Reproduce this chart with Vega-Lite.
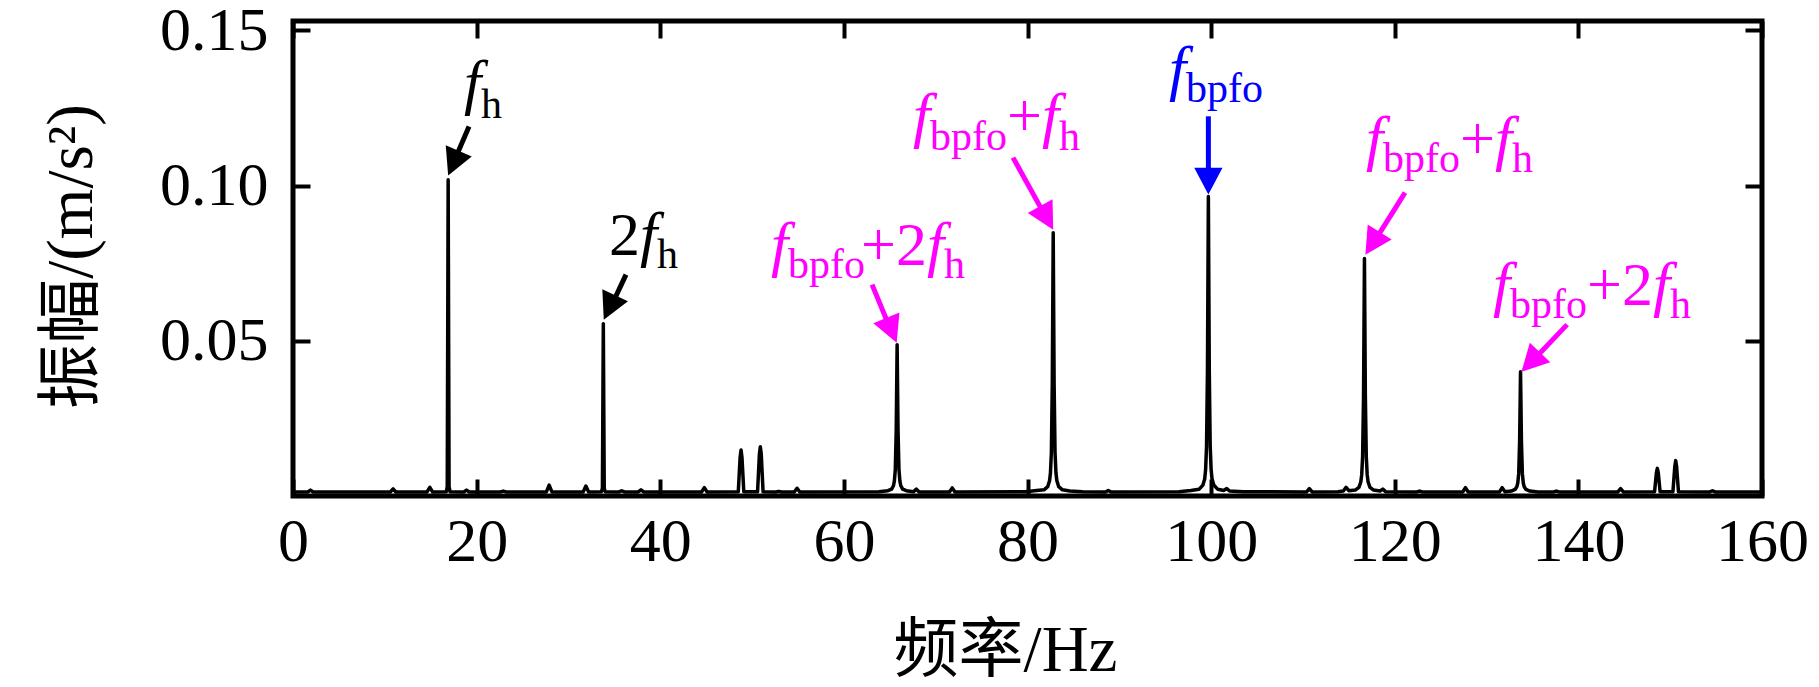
{
  "$schema": "https://vega.github.io/schema/vega-lite/v6.json",
  "autosize": {"type": "none"},
  "padding": {"left": 293, "top": 21, "right": 57, "bottom": 191},
  "width": 1469,
  "height": 475,
  "background": "white",
  "datasets": {
    "spec": [
      {"f": 0, "a": 0.0013}, {"f": 1.6, "a": 0.0013}, {"f": 1.9, "a": 0.0019}, {"f": 2.2, "a": 0.0013},
      {"f": 10.6, "a": 0.0013}, {"f": 10.9, "a": 0.0023}, {"f": 11.2, "a": 0.0013},
      {"f": 14.6, "a": 0.0013}, {"f": 14.9, "a": 0.0028}, {"f": 15.2, "a": 0.0013},
      {"f": 16.7, "a": 0.0014}, {"f": 16.8, "a": 0.003}, {"f": 16.9, "a": 0.1019}, {"f": 17.0, "a": 0.003}, {"f": 17.1, "a": 0.0014},
      {"f": 18.6, "a": 0.0013}, {"f": 18.9, "a": 0.0019}, {"f": 19.2, "a": 0.0013},
      {"f": 22.6, "a": 0.0013}, {"f": 22.9, "a": 0.0016}, {"f": 23.2, "a": 0.0013},
      {"f": 27.6, "a": 0.0013}, {"f": 27.9, "a": 0.0035}, {"f": 28.2, "a": 0.0013},
      {"f": 31.6, "a": 0.0013}, {"f": 31.9, "a": 0.0032}, {"f": 32.2, "a": 0.0013},
      {"f": 33.6, "a": 0.0014}, {"f": 33.7, "a": 0.0025}, {"f": 33.8, "a": 0.0555}, {"f": 33.9, "a": 0.0025}, {"f": 34.0, "a": 0.0014},
      {"f": 35.5, "a": 0.0013}, {"f": 35.8, "a": 0.0017}, {"f": 36.1, "a": 0.0013},
      {"f": 37.6, "a": 0.0013}, {"f": 37.9, "a": 0.002}, {"f": 38.2, "a": 0.0013},
      {"f": 44.5, "a": 0.0013}, {"f": 44.8, "a": 0.0027}, {"f": 45.1, "a": 0.0013},
      {"f": 48.5, "a": 0.0014}, {"f": 48.7, "a": 0.0125}, {"f": 48.8, "a": 0.0148}, {"f": 48.9, "a": 0.0125}, {"f": 49.1, "a": 0.0014},
      {"f": 50.6, "a": 0.0014}, {"f": 50.8, "a": 0.0135}, {"f": 50.9, "a": 0.0159}, {"f": 51.0, "a": 0.0135}, {"f": 51.2, "a": 0.0014},
      {"f": 52.6, "a": 0.0013}, {"f": 52.9, "a": 0.0015}, {"f": 53.2, "a": 0.0013},
      {"f": 54.6, "a": 0.0013}, {"f": 54.9, "a": 0.0025}, {"f": 55.2, "a": 0.0013},
      {"f": 63.8, "a": 0.0014}, {"f": 64.8, "a": 0.0017}, {"f": 65.2, "a": 0.0022}, {"f": 65.4, "a": 0.0033}, {"f": 65.5, "a": 0.0048},
      {"f": 65.6, "a": 0.0085}, {"f": 65.7, "a": 0.021}, {"f": 65.8, "a": 0.0487}, {"f": 65.9, "a": 0.021}, {"f": 66.0, "a": 0.0085},
      {"f": 66.1, "a": 0.0048}, {"f": 66.2, "a": 0.0033}, {"f": 66.4, "a": 0.0022}, {"f": 66.8, "a": 0.0017},
      {"f": 67.6, "a": 0.0014}, {"f": 67.9, "a": 0.0022}, {"f": 68.2, "a": 0.0013},
      {"f": 71.5, "a": 0.0013}, {"f": 71.8, "a": 0.0026}, {"f": 72.1, "a": 0.0013},
      {"f": 79.8, "a": 0.0014}, {"f": 81.0, "a": 0.0018}, {"f": 81.8, "a": 0.002}, {"f": 82.2, "a": 0.003}, {"f": 82.4, "a": 0.0049},
      {"f": 82.5, "a": 0.0074}, {"f": 82.6, "a": 0.014}, {"f": 82.7, "a": 0.036}, {"f": 82.8, "a": 0.0848}, {"f": 82.9, "a": 0.036},
      {"f": 83.0, "a": 0.014}, {"f": 83.1, "a": 0.0074}, {"f": 83.2, "a": 0.0049}, {"f": 83.4, "a": 0.003}, {"f": 83.8, "a": 0.002},
      {"f": 84.6, "a": 0.0016}, {"f": 86.0, "a": 0.0014},
      {"f": 88.5, "a": 0.0013}, {"f": 88.8, "a": 0.0018}, {"f": 89.1, "a": 0.0013},
      {"f": 96.5, "a": 0.0014}, {"f": 97.8, "a": 0.0018}, {"f": 98.7, "a": 0.0022}, {"f": 99.1, "a": 0.0035}, {"f": 99.3, "a": 0.0055},
      {"f": 99.4, "a": 0.0085}, {"f": 99.5, "a": 0.016}, {"f": 99.6, "a": 0.04}, {"f": 99.7, "a": 0.0965}, {"f": 99.8, "a": 0.04},
      {"f": 99.9, "a": 0.016}, {"f": 100.0, "a": 0.0085}, {"f": 100.1, "a": 0.0055}, {"f": 100.3, "a": 0.0035}, {"f": 100.7, "a": 0.0022},
      {"f": 101.4, "a": 0.0018}, {"f": 101.7, "a": 0.0024}, {"f": 102.0, "a": 0.0016}, {"f": 103.5, "a": 0.0014},
      {"f": 110.4, "a": 0.0013}, {"f": 110.7, "a": 0.0024}, {"f": 111.0, "a": 0.0013},
      {"f": 113.8, "a": 0.0014}, {"f": 114.4, "a": 0.0016}, {"f": 114.7, "a": 0.0028}, {"f": 115.0, "a": 0.0017},
      {"f": 115.7, "a": 0.0019}, {"f": 116.1, "a": 0.0028}, {"f": 116.3, "a": 0.0045}, {"f": 116.4, "a": 0.0068}, {"f": 116.5, "a": 0.0127},
      {"f": 116.6, "a": 0.032}, {"f": 116.7, "a": 0.0765}, {"f": 116.8, "a": 0.032}, {"f": 116.9, "a": 0.0127}, {"f": 117.0, "a": 0.0068},
      {"f": 117.1, "a": 0.0045}, {"f": 117.3, "a": 0.0028}, {"f": 117.7, "a": 0.0019},
      {"f": 118.4, "a": 0.0016}, {"f": 118.7, "a": 0.0022}, {"f": 119.0, "a": 0.0014},
      {"f": 122.4, "a": 0.0013}, {"f": 122.7, "a": 0.0016}, {"f": 123.0, "a": 0.0013},
      {"f": 127.4, "a": 0.0013}, {"f": 127.7, "a": 0.0027}, {"f": 128.0, "a": 0.0013},
      {"f": 131.4, "a": 0.0013}, {"f": 131.7, "a": 0.0027}, {"f": 132.0, "a": 0.0014},
      {"f": 132.7, "a": 0.0016}, {"f": 133.1, "a": 0.0021}, {"f": 133.3, "a": 0.003}, {"f": 133.4, "a": 0.0042}, {"f": 133.5, "a": 0.0072},
      {"f": 133.6, "a": 0.0175}, {"f": 133.7, "a": 0.04}, {"f": 133.8, "a": 0.0175}, {"f": 133.9, "a": 0.0072}, {"f": 134.0, "a": 0.0042},
      {"f": 134.1, "a": 0.003}, {"f": 134.3, "a": 0.0021}, {"f": 134.7, "a": 0.0016}, {"f": 135.6, "a": 0.0013},
      {"f": 137.3, "a": 0.0013}, {"f": 137.6, "a": 0.0016}, {"f": 137.9, "a": 0.0013},
      {"f": 144.3, "a": 0.0013}, {"f": 144.6, "a": 0.0024}, {"f": 144.9, "a": 0.0013},
      {"f": 148.3, "a": 0.0014}, {"f": 148.5, "a": 0.0075}, {"f": 148.6, "a": 0.0089}, {"f": 148.7, "a": 0.0075}, {"f": 148.9, "a": 0.0014},
      {"f": 150.3, "a": 0.0014}, {"f": 150.5, "a": 0.0095}, {"f": 150.6, "a": 0.0114}, {"f": 150.7, "a": 0.0095}, {"f": 150.9, "a": 0.0014},
      {"f": 154.3, "a": 0.0013}, {"f": 154.6, "a": 0.0017}, {"f": 154.9, "a": 0.0013}, {"f": 160, "a": 0.0013}
    ],
    "arrows": [
      {"g": "k", "x": 19.17, "y": 0.119, "x2": 17.53, "y2": 0.1077, "tx": 16.9, "ty": 0.1032, "ang": 23.2},
      {"g": "k", "x": 36.27, "y": 0.0713, "x2": 34.67, "y2": 0.0612, "tx": 33.85, "ty": 0.0568, "ang": 25.0},
      {"g": "m", "x": 63.07, "y": 0.0681, "x2": 65.06, "y2": 0.0538, "tx": 65.75, "ty": 0.0494, "ang": -22.5},
      {"g": "m", "x": 78.42, "y": 0.109, "x2": 81.98, "y2": 0.09, "tx": 82.8, "ty": 0.0858, "ang": -29.1},
      {"g": "b", "x": 99.7, "y": 0.1223, "x2": 99.7, "y2": 0.1019, "tx": 99.7, "ty": 0.0971, "ang": 0},
      {"g": "m", "x": 121.12, "y": 0.0977, "x2": 117.74, "y2": 0.0818, "tx": 116.8, "ty": 0.0777, "ang": 32.2},
      {"g": "m", "x": 138.77, "y": 0.0552, "x2": 135.0, "y2": 0.0435, "tx": 133.8, "ty": 0.04, "ang": 43.8}
    ],
    "labels": [
      {"g": "k", "r": "f", "t": "f", "x": 18.63, "y": 0.1265},
      {"g": "k", "r": "s", "t": "h", "x": 20.48, "y": 0.1219},
      {"g": "k", "r": "n", "t": "2", "x": 34.42, "y": 0.0777},
      {"g": "k", "r": "f", "t": "f", "x": 37.8, "y": 0.0777},
      {"g": "k", "r": "s", "t": "h", "x": 39.65, "y": 0.0735},
      {"g": "m", "r": "f", "t": "f", "x": 52.06, "y": 0.0745},
      {"g": "m", "r": "s", "t": "bpfo", "x": 53.92, "y": 0.0703},
      {"g": "m", "r": "n", "t": "+2", "x": 61.87, "y": 0.0745},
      {"g": "m", "r": "f", "t": "f", "x": 69.06, "y": 0.0745},
      {"g": "m", "r": "s", "t": "h", "x": 70.91, "y": 0.0703},
      {"g": "m", "r": "f", "t": "f", "x": 67.53, "y": 0.1158},
      {"g": "m", "r": "s", "t": "bpfo", "x": 69.38, "y": 0.1116},
      {"g": "m", "r": "n", "t": "+", "x": 77.77, "y": 0.1158},
      {"g": "m", "r": "f", "t": "f", "x": 81.58, "y": 0.1158},
      {"g": "m", "r": "s", "t": "h", "x": 83.43, "y": 0.1116},
      {"g": "b", "r": "f", "t": "f", "x": 95.41, "y": 0.131},
      {"g": "b", "r": "s", "t": "bpfo", "x": 97.26, "y": 0.1268},
      {"g": "m", "r": "f", "t": "f", "x": 116.87, "y": 0.1087},
      {"g": "m", "r": "s", "t": "bpfo", "x": 118.72, "y": 0.1045},
      {"g": "m", "r": "n", "t": "+", "x": 127.11, "y": 0.1087},
      {"g": "m", "r": "f", "t": "f", "x": 130.92, "y": 0.1087},
      {"g": "m", "r": "s", "t": "h", "x": 132.77, "y": 0.1045},
      {"g": "m", "r": "f", "t": "f", "x": 130.7, "y": 0.0616},
      {"g": "m", "r": "s", "t": "bpfo", "x": 132.56, "y": 0.0574},
      {"g": "m", "r": "n", "t": "+2", "x": 140.94, "y": 0.0616},
      {"g": "m", "r": "f", "t": "f", "x": 148.13, "y": 0.0616},
      {"g": "m", "r": "s", "t": "h", "x": 149.98, "y": 0.0574}
    ]
  },
  "resolve": {"axis": {"x": "independent", "y": "independent"}},
  "layer": [
    {
      "data": {"name": "spec"},
      "mark": {"type": "line", "color": "black", "strokeWidth": 3.5, "strokeJoin": "round"},
      "encoding": {
        "x": {"field": "f", "type": "quantitative", "scale": {"domain": [0, 160], "nice": false, "zero": false},
          "axis": {"orient": "bottom", "values": [0, 20, 40, 60, 80, 100, 120, 140, 160], "labelPadding": 32,
            "labelFlush": false, "labelOverlap": false, "title": "频率/Hz", "titleX": 712, "titleY": 174, "titleBaseline": "alphabetic"}},
        "y": {"field": "a", "type": "quantitative", "scale": {"domain": [0, 0.153], "nice": false, "zero": false},
          "axis": {"orient": "left", "values": [0.05, 0.1, 0.15], "format": ".2f", "labelPadding": 42,
            "labelFlush": false, "labelOverlap": false, "title": "振幅/(m/s²)", "titleX": -188, "titleY": 235, "titleBaseline": "bottom"}}
      }
    },
    {
      "data": {"name": "arrows"},
      "mark": {"type": "rule", "strokeWidth": 5, "strokeCap": "butt"},
      "encoding": {
        "x": {"field": "x", "type": "quantitative", "scale": {"domain": [0, 160], "nice": false, "zero": false},
          "axis": {"orient": "top", "values": [0, 20, 40, 60, 80, 100, 120, 140, 160], "labels": false, "title": null}},
        "y": {"field": "y", "type": "quantitative", "scale": {"domain": [0, 0.153], "nice": false, "zero": false},
          "axis": {"orient": "right", "values": [0.05, 0.1, 0.15], "labels": false, "title": null}},
        "x2": {"field": "x2"},
        "y2": {"field": "y2"},
        "color": {"field": "g", "type": "nominal", "scale": {"domain": ["k", "m", "b"], "range": ["black", "#ff00ff", "#0000ff"]}, "legend": null}
      }
    },
    {
      "data": {"name": "arrows"},
      "mark": {"type": "point", "shape": "M0,0L-1,-1.9L1,-1.9Z", "filled": true, "size": 800, "opacity": 1, "strokeWidth": 0},
      "encoding": {
        "x": {"field": "tx", "type": "quantitative", "scale": {"domain": [0, 160], "nice": false, "zero": false}, "axis": null},
        "y": {"field": "ty", "type": "quantitative", "scale": {"domain": [0, 0.153], "nice": false, "zero": false}, "axis": null},
        "angle": {"field": "ang", "type": "quantitative", "scale": null},
        "color": {"field": "g", "type": "nominal", "scale": {"domain": ["k", "m", "b"], "range": ["black", "#ff00ff", "#0000ff"]}, "legend": null}
      }
    },
    {
      "data": {"name": "labels"},
      "transform": [{"filter": "datum.r == 'f'"}],
      "mark": {"type": "text", "align": "left", "baseline": "alphabetic", "font": "Liberation Serif", "fontSize": 62, "fontStyle": "italic"},
      "encoding": {
        "x": {"field": "x", "type": "quantitative", "scale": {"domain": [0, 160], "nice": false, "zero": false}, "axis": null},
        "y": {"field": "y", "type": "quantitative", "scale": {"domain": [0, 0.153], "nice": false, "zero": false}, "axis": null},
        "text": {"field": "t"},
        "color": {"field": "g", "type": "nominal", "scale": {"domain": ["k", "m", "b"], "range": ["black", "#ff00ff", "#0000ff"]}, "legend": null}
      }
    },
    {
      "data": {"name": "labels"},
      "transform": [{"filter": "datum.r == 's'"}],
      "mark": {"type": "text", "align": "left", "baseline": "alphabetic", "font": "Liberation Serif", "fontSize": 42},
      "encoding": {
        "x": {"field": "x", "type": "quantitative", "scale": {"domain": [0, 160], "nice": false, "zero": false}, "axis": null},
        "y": {"field": "y", "type": "quantitative", "scale": {"domain": [0, 0.153], "nice": false, "zero": false}, "axis": null},
        "text": {"field": "t"},
        "color": {"field": "g", "type": "nominal", "scale": {"domain": ["k", "m", "b"], "range": ["black", "#ff00ff", "#0000ff"]}, "legend": null}
      }
    },
    {
      "data": {"name": "labels"},
      "transform": [{"filter": "datum.r == 'n'"}],
      "mark": {"type": "text", "align": "left", "baseline": "alphabetic", "font": "Liberation Serif", "fontSize": 62},
      "encoding": {
        "x": {"field": "x", "type": "quantitative", "scale": {"domain": [0, 160], "nice": false, "zero": false}, "axis": null},
        "y": {"field": "y", "type": "quantitative", "scale": {"domain": [0, 0.153], "nice": false, "zero": false}, "axis": null},
        "text": {"field": "t"},
        "color": {"field": "g", "type": "nominal", "scale": {"domain": ["k", "m", "b"], "range": ["black", "#ff00ff", "#0000ff"]}, "legend": null}
      }
    }
  ],
  "config": {
    "view": {"stroke": "black", "strokeWidth": 5},
    "axis": {
      "grid": false, "domain": false,
      "tickColor": "black", "tickWidth": 4, "tickSize": -17,
      "labelFont": "Liberation Serif", "labelFontSize": 62, "labelColor": "black",
      "titleFont": "Liberation Serif, Noto Sans CJK SC", "titleFontSize": 65, "titleFontWeight": "normal", "titleColor": "black"
    }
  }
}
